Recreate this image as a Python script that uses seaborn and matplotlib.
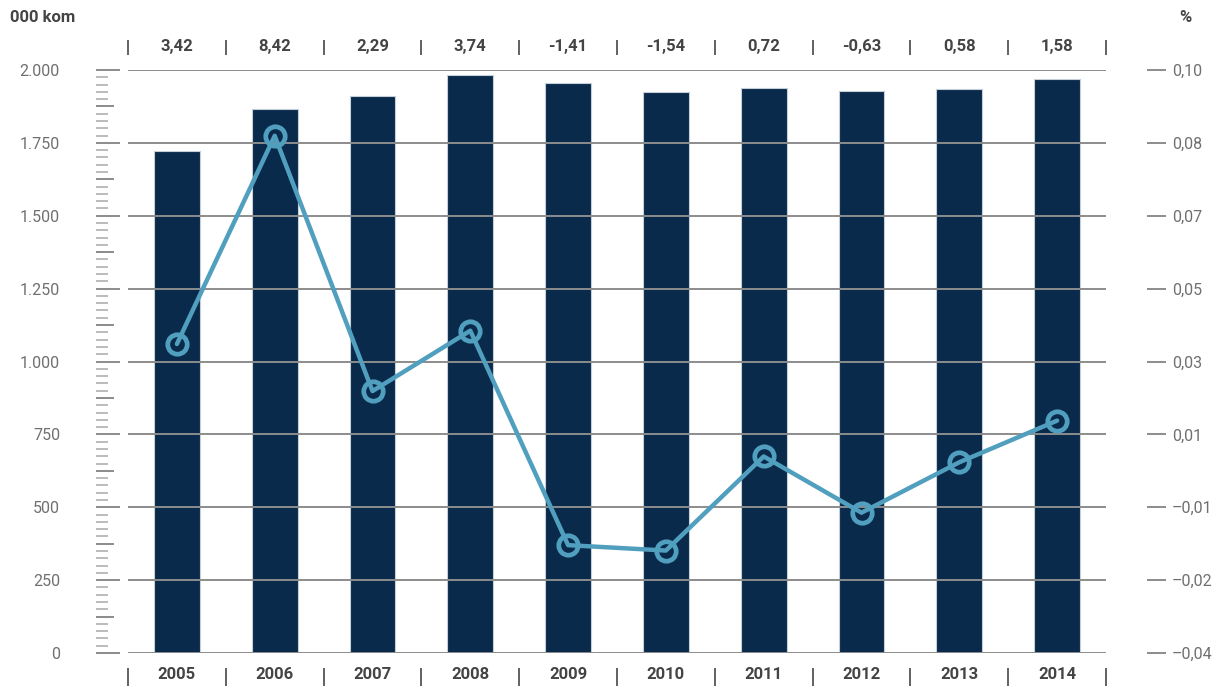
import numpy as np
import pandas as pd
import seaborn as sns
import matplotlib
matplotlib.use("Agg")
from matplotlib import pyplot as plt
from matplotlib import transforms

# podaci
years = ["2005", "2006", "2007", "2008", "2009", "2010", "2011", "2012", "2013", "2014"]
bar_values = [1722, 1867, 1911, 1984, 1955, 1924, 1939, 1927, 1936, 1968]   # 000 kom
pct_labels = ["3,42", "8,42", "2,29", "3,74", "-1,41", "-1,54", "0,72", "-0,63", "0,58", "1,58"]
pct_values = [0.0342, 0.0842, 0.0229, 0.0374, -0.0141, -0.0154, 0.0072, -0.0063, 0.0058, 0.0158]
left_ticks = [0, 250, 500, 750, 1000, 1250, 1500, 1750, 2000]
left_tick_labels = ["0", "250", "500", "750", "1.000", "1.250", "1.500", "1.750", "2.000"]
right_tick_labels = ["\u20130,04", "\u20130,02", "\u20130,01", "0,01", "0,03", "0,05", "0,07", "0,08", "0,10"]

BAR_COLOR = "#0a2a4b"
LINE_COLOR = "#519fbf"
GRID_COLOR = "#8c8c8c"
TEXT_DARK = "#444444"
TEXT_LIGHT = "#707070"

sns.set_style("white")
plt.rcParams["font.family"] = ["Roboto", "DejaVu Sans"]

W, H = 1215, 686
fig = plt.figure(figsize=(W / 100, H / 100), dpi=100)


def px2pt(p):
    return p * 0.72


top_px, bot_px = 70, 653
left_px, right_px = 128, 1106
ax_bottom = 1 - bot_px / H
ax_height = (bot_px - top_px) / H

ax = fig.add_axes([left_px / W, ax_bottom, (right_px - left_px) / W, ax_height])
df = pd.DataFrame({"year": years, "value": bar_values, "pct": pct_values})
sns.barplot(data=df, x="year", y="value", color=BAR_COLOR, saturation=1, width=0.47,
            edgecolor="#c5cfd9", linewidth=0.8, ax=ax)
ax.set_ylim(0, 2000)
ax.set_yticks(left_ticks)
ax.set_yticklabels([])
ax.tick_params(axis="y", length=0)
ax.yaxis.grid(True, color=GRID_COLOR, linewidth=1.4)
ax.set_axisbelow(False)
for s in ax.spines.values():
    s.set_visible(False)
ax.set_xlabel("")
ax.set_ylabel("")
ax.tick_params(axis="x", length=0, pad=10, labelsize=12, labelcolor=TEXT_DARK)
for t in ax.get_xticklabels():
    t.set_fontweight("bold")

# linija (desna os)
ax2 = ax.twinx()
sns.lineplot(data=df, x="year", y="pct", color=LINE_COLOR, linewidth=3.2, marker="o",
             markersize=14, markerfacecolor="none", markeredgecolor=LINE_COLOR,
             markeredgewidth=3.4, ax=ax2)
ax2.set_ylim(-0.04, 0.10)
ax2.set_yticks([])
ax2.set_ylabel("")
for s in ax2.spines.values():
    s.set_visible(False)
ax.set_xlim(-0.5, len(years) - 0.5)

# procenti iznad i separatori
trans = transforms.blended_transform_factory(ax.transData, ax.transAxes)
for i, lab in enumerate(pct_labels):
    ax.text(i, 1.0395, lab, transform=trans, ha="center", va="center",
            fontsize=12, fontweight="bold", color=TEXT_DARK)
bounds = np.arange(len(years) + 1) - 0.5
ax.vlines(bounds, 1.0257, 1.0514, transform=trans, color="#555555", lw=1.3, clip_on=False)
ax.vlines(bounds, -0.0257, -0.056, transform=trans, color="#555555", lw=1.3, clip_on=False)


def tick_axes(x_px, side, length_px, major=None, minor=None, minor_len=None, labels=None, pad_px=0):
    a = fig.add_axes([x_px / W, ax_bottom, 0.0001, ax_height])
    a.set_ylim(0, 2000)
    a.set_xticks([])
    for s in a.spines.values():
        s.set_visible(False)
    a.patch.set_alpha(0)
    if side == "right":
        a.yaxis.tick_right()
    a.set_yticks(major)
    if minor is not None:
        a.set_yticks(minor, minor=True)
        a.tick_params(axis="y", which="minor", length=px2pt(minor_len), width=1.1,
                      color="#a8a8a8", direction="out")
    a.tick_params(axis="y", which="major", length=px2pt(length_px), width=1.4,
                  color=GRID_COLOR, direction="out", pad=px2pt(pad_px))
    if labels is not None:
        a.set_yticklabels(labels)
        a.tick_params(axis="y", labelsize=11.5, labelcolor=TEXT_LIGHT)
    else:
        a.set_yticklabels([])
    return a


minor_all = [v for v in np.arange(0, 2001, 25) if v % 250 != 0]
mid_ticks = list(np.arange(125, 2000, 250))

# lijeva strana
tick_axes(85, "left", 18, major=left_ticks, labels=left_tick_labels, pad_px=7)
tick_axes(96, "right", 24, major=left_ticks, minor=minor_all, minor_len=12)
tick_axes(96, "right", 18, major=mid_ticks)

# desna strana
tick_axes(1137, "left", 25, major=left_ticks, minor=minor_all, minor_len=14)
tick_axes(1137, "left", 19, major=mid_ticks)
tick_axes(1147, "right", 19, major=left_ticks, labels=right_tick_labels, pad_px=6)

fig.text(10 / W, 1 - 17 / H, "000 kom", ha="left", va="center", fontsize=12,
         fontweight="bold", color=TEXT_DARK)
fig.text(1185 / W, 1 - 17 / H, "%", ha="center", va="center", fontsize=12,
         fontweight="bold", color=TEXT_DARK)

fig.savefig("out.png", dpi=100)
